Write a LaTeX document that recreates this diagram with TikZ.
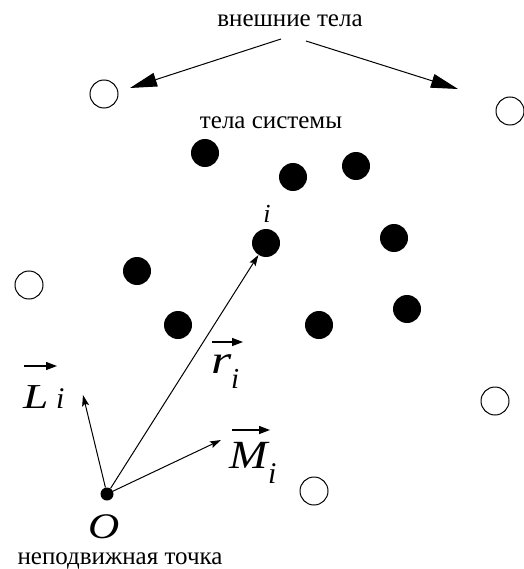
\documentclass[tikz,border=0pt]{standalone}
\usepackage{fontspec}
\setmainfont{Liberation Serif}
\usetikzlibrary{arrows.meta}

\tikzset{
	body/.style = {circle, fill = black, inner sep = 0pt, minimum size = 28pt},
	outer/.style = {circle, draw, line width = 1pt, inner sep = 0pt, minimum size = 28pt},
	fixed/.style = {circle, fill = black, inner sep = 0pt, minimum size = 13pt},
	caption/.style = {font = \fontsize{25}{25}\selectfont, inner sep = 0pt, anchor = base},
	letter/.style = {font = \fontsize{#1}{#1}\selectfont\itshape, inner sep = 0pt, anchor = base west},
	bigarrow/.style = {-{Triangle[length = 27pt, width = 14pt]}, line width = 1pt},
	vecarrow/.style = {-{Stealth[length = 11pt, width = 7pt, inset = 2pt]}, line width = 1pt},
	accent/.style = {-{Triangle[length = 11pt, width = 8pt]}, line width = 1.3pt}
}

\begin{document}
\begin{tikzpicture}[x = 1pt, y = -1pt]
	\useasboundingbox (0,0) rectangle (523,569);
	% captions
	\node [caption] (ext) at (290,27) {внешние тела};
	\node [caption] (sys) at (271,129) {тела системы};
	\node [caption] (fix) at (120,564) {неподвижная точка};
	% bodies of the system
	\node [body] (b1) at (205,153) {};
	\node [body] (b2) at (293,177) {};
	\node [body] (b3) at (356,166) {};
	\node [body] (bi) at (266,243) {};
	\node [body] (b5) at (394,238) {};
	\node [body] (b6) at (137,271) {};
	\node [body] (b7) at (178,325) {};
	\node [body] (b8) at (319,325) {};
	\node [body] (b9) at (407,309) {};
	\node [caption, font = \fontsize{26}{26}\selectfont\itshape] (ilabel) at (267,222) {i};
	% external bodies
	\node [outer] (o1) at (104,94) {};
	\node [outer] (o2) at (510,111) {};
	\node [outer] (o3) at (29,285) {};
	\node [outer] (o4) at (495,401) {};
	\node [outer] (o5) at (314,491) {};
	\coordinate (e1) at (281,39);
	\coordinate (t1) at (130,88);
	\coordinate (e2) at (306,41);
	\coordinate (t2) at (458,89);
	\draw [bigarrow] (e1) -- (t1);
	\draw [bigarrow] (e2) -- (t2);
	% fixed point and vectors
	\node [fixed] (O) at (107,494) {};
	\node [letter = 36] (Olabel) at (88,538) {\scalebox{1.2}[1]{O}};
	\coordinate (Ltip) at (83,395);
	\coordinate (Mtip) at (221,440);
	\draw [vecarrow] (O) -- (bi);
	\draw [vecarrow] (O) -- (Ltip);
	\draw [vecarrow] (O) -- (Mtip);
	% vector labels
	\node [letter = 40] (r) at (211,373) {\scalebox{1.3}[1]{r}};
	\node [letter = 29] (ri) at (231,388) {i};
	\draw [accent] (212,342) -- (243,342);
	\node [letter = 35] (L) at (23,408) {\scalebox{1.3}[1]{L}};
	\node [letter = 30] (Li) at (56,408) {i};
	\draw [accent] (24,366) -- (57,366);
	\node [letter = 40] (M) at (229,468) {\scalebox{1.15}[1]{M}};
	\node [letter = 30] (Mi) at (268,483) {i};
	\draw [accent] (232,430) -- (270,430);
\end{tikzpicture}
\end{document}
